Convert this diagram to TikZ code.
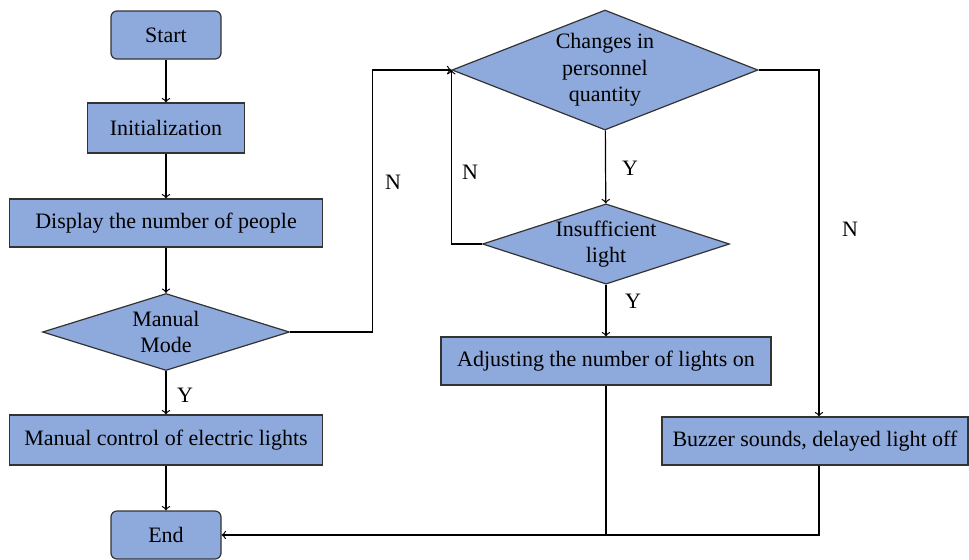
\documentclass[tikz,border=0pt]{standalone}
\usepackage{fontspec}
\setmainfont{Liberation Serif}
\usetikzlibrary{shapes.geometric}
\definecolor{boxblue}{HTML}{8EA9DB}
\begin{document}
\begin{tikzpicture}[x=0.5pt,y=-0.5pt,>=to,line width=0.6pt,
    every node/.style={font=\fontsize{11}{13.2}\selectfont,align=center},
    proc/.style={draw=black!80,fill=boxblue,inner sep=0pt,line width=0.6pt,minimum height=24pt},
    term/.style={proc,rounded corners=3pt,minimum width=55pt},
    decide/.style={proc,shape=diamond,inner sep=0pt,aspect=3}]
\useasboundingbox (0,0) rectangle (969,559);
\node[term] (start) at (166,35) {Start};
\node[proc,minimum width=78.5pt,minimum height=25pt] (init) at (166,128) {Initialization};
\node[proc,minimum width=156.5pt] (disp) at (166,223) {Display the number of people};
\node[decide,minimum width=123.5pt,minimum height=38.5pt] (mode) at (166,332) {Manual\\Mode};
\node[proc,minimum width=156.5pt,minimum height=25pt] (manual) at (166,440) {Manual control of electric lights};
\node[term] (end) at (166,535) {End};
\node[decide,aspect=2.55,minimum width=153pt,minimum height=60pt] (chg) at (605,70) {Changes in\\personnel\\quantity};
\node[decide,minimum width=123.5pt,minimum height=38.5pt] (ins) at (606,244) {Insufficient\\light};
\node[proc,minimum width=165pt] (adj) at (606,361) {Adjusting the number of lights on};
\node[proc,minimum width=153pt] (buzz) at (815,441) {Buzzer sounds, delayed light off};

\node (yA) at (185,395) {Y};
\node (nA) at (393,182) {N};
\node (yB) at (630,168) {Y};
\node (nB) at (470,172) {N};
\node (yC) at (633,301) {Y};
\node (nC) at (850,229) {N};

\draw[->] (start) -- (init);
\draw[->] (init) -- (disp);
\draw[->] (disp) -- (mode);
\draw[->] (mode) -- (manual);
\draw[->] (manual) -- (end);
\draw[->] (mode.east) -- ++(82,0) |- (chg.west);
\draw[->] (chg) -- (ins);
\draw[->] (ins.west) -| (chg.west);
\draw[->] (ins) -- (adj);
\draw[->] (chg.east) -| ([xshift=2pt]buzz.north);
\draw (adj.south) -- (adj.south |- end.east);
\draw[->] ([xshift=2pt]buzz.south) |- (end.east);
\end{tikzpicture}
\end{document}
